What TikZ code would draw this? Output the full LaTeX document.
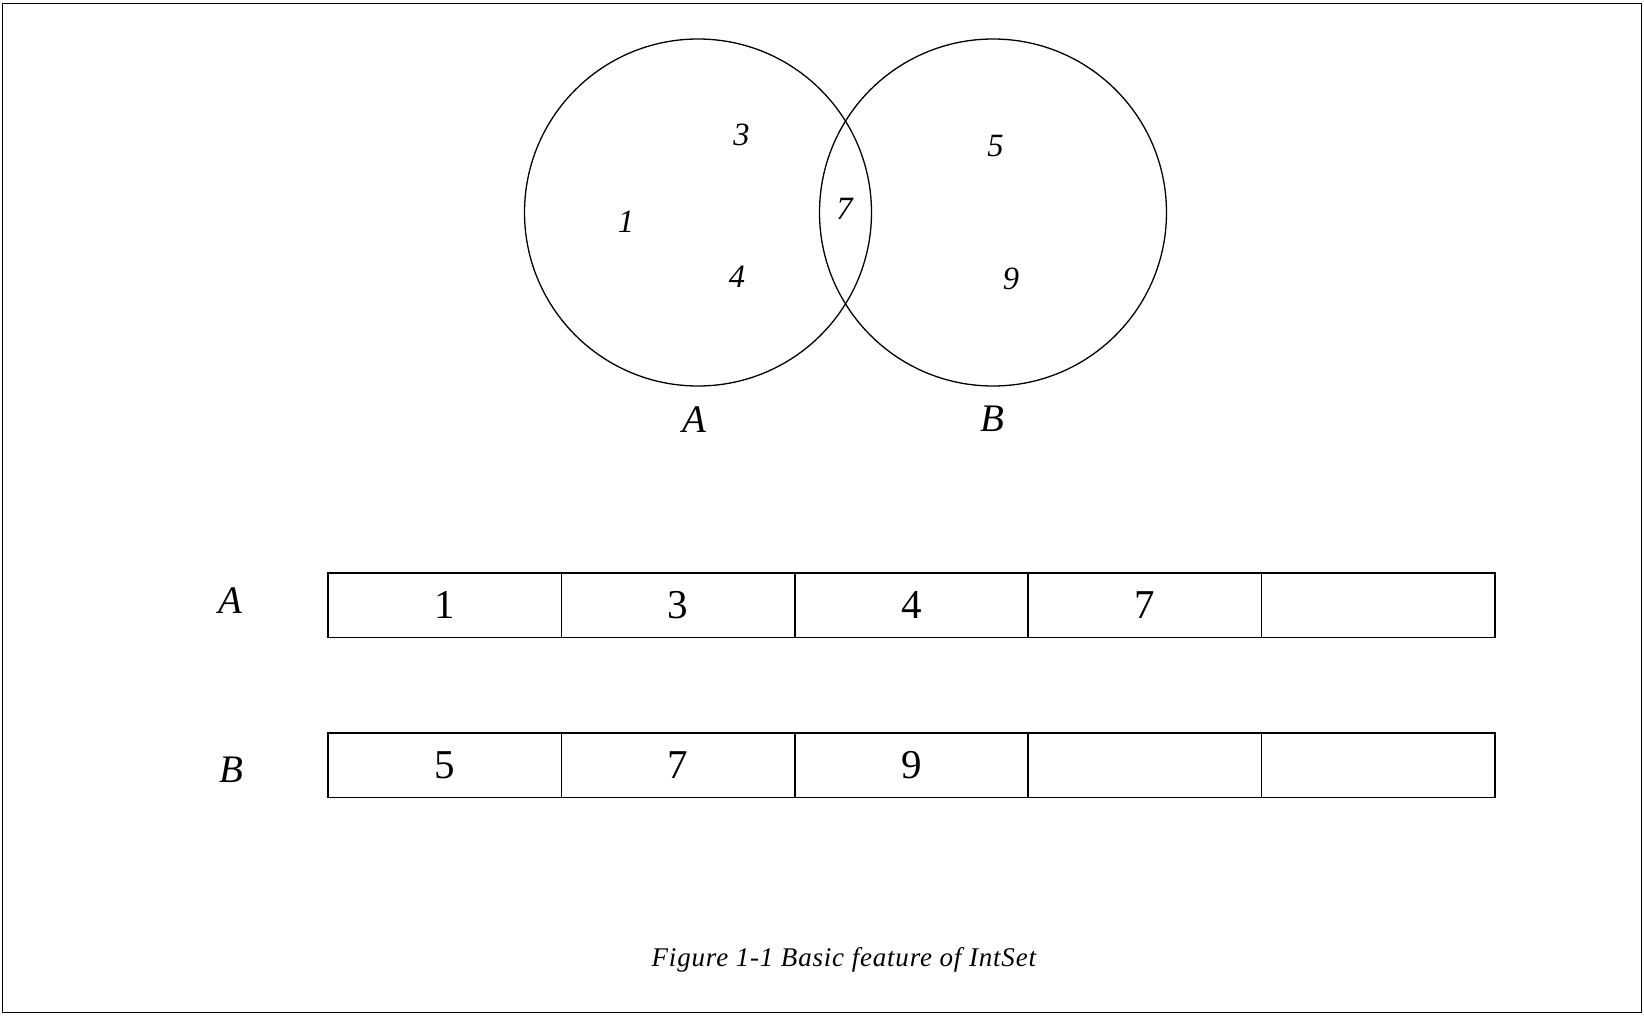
\documentclass[tikz,border=0pt]{standalone}
\usepackage{fontspec}
\setmainfont{Liberation Serif}
\newfontfamily\capfont[LetterSpace=3]{Liberation Serif}
\begin{document}
\begin{tikzpicture}[x=1pt,y=-1pt,
  frame/.style={draw=black,line width=1.8pt},
  setcircle/.style={circle,draw=black,line width=1.3pt,minimum size=347pt,inner sep=0pt},
  elem/.style={inner sep=0pt,font=\fontsize{32.5}{36}\selectfont\itshape},
  setname/.style={inner sep=0pt,font=\fontsize{39}{44}\selectfont\itshape},
  cell/.style={rectangle,draw=black,line width=1.5pt,minimum width=233.4pt,minimum height=64.5pt,inner sep=0pt,font=\fontsize{41}{46}\selectfont},
  caption/.style={inner sep=0pt,anchor=base west,font=\capfont\fontsize{27}{32}\selectfont\itshape}]
\useasboundingbox (0,0) rectangle (1644,1016);
\draw[frame] (2.5,3.5) rectangle (1641.5,1012.5);
% Venn diagram
\node[setcircle] (cA) at (698,212.5) {};
\node[setcircle] (cB) at (993,212.5) {};
\node[elem] (e3) at (741.5,135) {3};
\node[elem] (e1) at (626,222) {1};
\node[elem] (e4) at (737,276.5) {4};
\node[elem] (e7) at (844.5,208.5) {7};
\node[elem] (e5) at (995.5,146) {5};
\node[elem] (e9) at (1011,279) {9};
\node[setname] (lA) at (694.5,420) {A};
\node[setname] (lB) at (992,419) {B};
% arrays
\node[setname] (rA) at (230.7,600.7) {A};
\node[setname] (rB) at (231.7,769.5) {B};
\node[cell] (a1) at (444.7,605) {1};
\node[cell] (a2) at (678.1,605) {3};
\node[cell] (a3) at (911.5,605) {4};
\node[cell] (a4) at (1144.9,605) {7};
\node[cell] (a5) at (1378.3,605) {};
\node[cell] (b1) at (444.7,765) {5};
\node[cell] (b2) at (678.1,765) {7};
\node[cell] (b3) at (911.5,765) {9};
\node[cell] (b4) at (1144.9,765) {};
\node[cell] (b5) at (1378.3,765) {};
\node[caption] (cap) at (651.5,966.5) {Figure 1-1 Basic feature of IntSet};
\end{tikzpicture}
\end{document}
